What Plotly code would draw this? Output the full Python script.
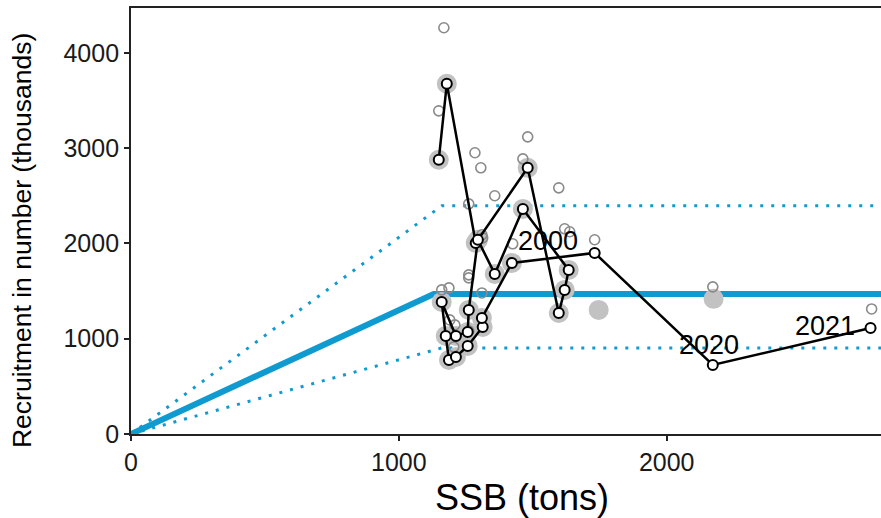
import plotly.graph_objects as go

# ---- data ----
years = list(range(1998, 2022))
ssb = [1149, 1179, 1287, 1481, 1597, 1619, 1634, 1463, 1358, 1295, 1261, 1257,
       1213, 1160, 1175, 1187, 1213, 1257, 1313, 1310, 1422, 1731, 2172, 2761]
rec = [2878, 3675, 2005, 2793, 1270, 1512, 1722, 2362, 1680, 2037, 1302, 1071,
       1029, 1386, 1029, 777, 808, 924, 1123, 1218, 1795, 1900, 724, 1113]

# previous assessment (grey halos)
halo_ssb = ssb[:21] + [1746, 2175]
halo_rec = rec[:21] + [1302, 1418]

# alternative estimates (grey open circles)
open_ssb = [1168, 1149, 1284, 1306, 1481, 1463, 1597, 1358, 1261, 1310, 1313, 1619, 1638,
            1731, 1425, 2172, 2765, 1261, 1261, 1310, 1160, 1187, 1190, 1209, 1261, 1205]
open_rec = [4263, 3391, 2951, 2793, 3118, 2887, 2583, 2500, 2415, 2090, 2058, 2153, 2122,
            2038, 1996, 1544, 1312, 1670, 1638, 1480, 1512, 1533, 1197, 1145, 1082, 914]

# segmented regression and percentiles
fit_ssb = [0, 1130, 2800]
fit_rec = [0, 1470, 1470]
hi_ssb = [0, 1160, 2800]
hi_rec = [0, 2394, 2394]
lo_ssb = [0, 1160, 2800]
lo_rec = [0, 903, 903]

label_years = [2000, 2020, 2021]
label_text = ["2000", "2020", "2021"]

x_ticks = [0, 1000, 2000]
y_ticks = [0, 1000, 2000, 3000, 4000]

BLUE = "#0f9bd0"
FONT = "Liberation Sans, Arial"

fig = go.Figure()
fig.add_trace(go.Scatter(x=hi_ssb, y=hi_rec, mode="lines",
                         line=dict(color=BLUE, width=3, dash="3px,8px"), hoverinfo="skip"))
fig.add_trace(go.Scatter(x=lo_ssb, y=lo_rec, mode="lines",
                         line=dict(color=BLUE, width=3, dash="3px,8px"), hoverinfo="skip"))
fig.add_trace(go.Scatter(x=fit_ssb, y=fit_rec, mode="lines",
                         line=dict(color=BLUE, width=6), hoverinfo="skip"))
fig.add_trace(go.Scatter(x=halo_ssb, y=halo_rec, mode="markers",
                         marker=dict(size=20, color="#c2c2c2", line=dict(width=0))))
fig.add_trace(go.Scatter(x=open_ssb, y=open_rec, mode="markers",
                         marker=dict(size=10, color="rgba(255,255,255,0)",
                                     line=dict(color="#8a8a8a", width=1.6))))
fig.add_trace(go.Scatter(x=ssb, y=rec, mode="lines",
                         line=dict(color="black", width=2.5)))
fig.add_trace(go.Scatter(x=ssb, y=rec, mode="markers",
                         marker=dict(size=10, color="white", line=dict(color="black", width=2))))

offsets = {2000: (72, 2), 2020: (-4, 20), 2021: (-46, 2)}
for yr, txt in zip(label_years, label_text):
    i = years.index(yr)
    dx, dy = offsets[yr]
    fig.add_annotation(x=ssb[i], y=rec[i], text=txt, showarrow=False,
                       xshift=dx, yshift=dy,
                       font=dict(size=27, color="black", family=FONT))

# axis titles (placed as in the reference)
fig.add_annotation(text="SSB (tons)", xref="paper", yref="paper", x=0.521, y=-0.148,
                   showarrow=False, xanchor="center", yanchor="middle",
                   font=dict(size=36, color="black", family=FONT))
fig.add_annotation(text="Recruitment in number (thousands)", xref="paper", yref="paper",
                   x=-0.1453, y=0.453, textangle=-90, showarrow=False,
                   xanchor="center", yanchor="middle", borderpad=0,
                   font=dict(size=26.5, color="black", family=FONT))

fig.update_layout(
    width=881, height=518,
    margin=dict(l=131, r=0, t=8, b=84),
    paper_bgcolor="white", plot_bgcolor="white",
    showlegend=False,
    font=dict(family=FONT, color="black"),
)
fig.update_xaxes(range=[0, 2800], tickvals=x_ticks, ticktext=[str(v) for v in x_ticks],
                 showgrid=False, zeroline=False, showline=True, linecolor="#222", linewidth=1.8,
                 mirror=True, ticks="outside", ticklen=5, tickwidth=1.5, tickcolor="#222",
                 tickfont=dict(size=25, color="#1a1a1a"))
fig.update_yaxes(range=[0, 4470], tickvals=y_ticks, ticktext=[str(v) for v in y_ticks],
                 showgrid=False, zeroline=False, showline=True, linecolor="#222", linewidth=1.8,
                 ticks="outside", ticklen=5, tickwidth=1.5, tickcolor="#222",
                 tickfont=dict(size=25, color="#1a1a1a"))

# remove the default page margin so the figure fills the 881x518 window exactly
fig.write_html("out.html", config={"displayModeBar": False},
               post_script="document.body.style.margin='0';document.body.style.overflow='hidden';")
